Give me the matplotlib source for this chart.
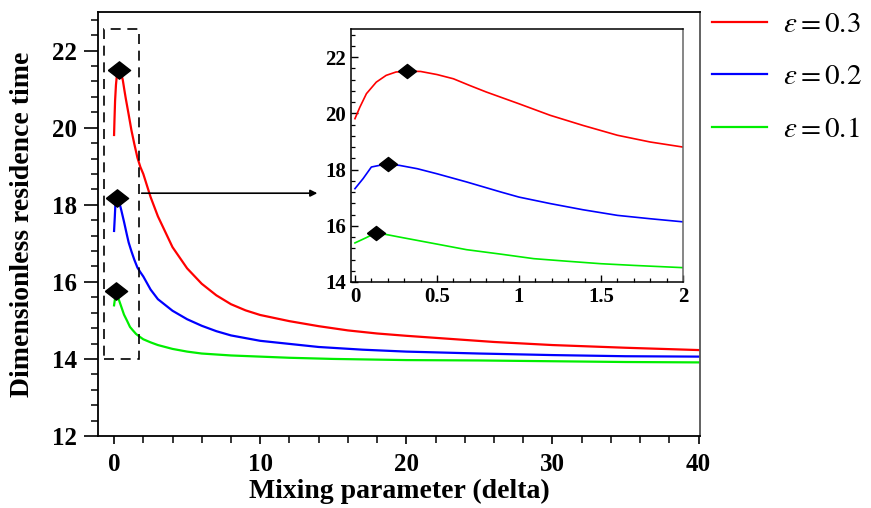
import numpy as np
import matplotlib
matplotlib.use('Agg')
import matplotlib.pyplot as plt
from matplotlib.patches import Rectangle
from matplotlib.ticker import MultipleLocator

plt.rcParams['font.family'] = 'Liberation Serif'
plt.rcParams['mathtext.fontset'] = 'stix'

# residence time vs mixing parameter
delta_03 = [0, 0.03, 0.07, 0.13, 0.19, 0.25, 0.32, 0.40, 0.50, 0.60, 0.70, 0.80, 1.0, 1.19, 1.39,
            1.60, 1.80, 2.0, 2.5, 3, 4, 5, 6, 7, 8, 9, 10, 12, 14, 16, 18, 20, 23, 26, 30, 35, 40]
tau_03 = [19.81, 20.22, 20.70, 21.11, 21.35, 21.47, 21.50, 21.49, 21.38, 21.23, 20.99, 20.76, 20.34,
          19.93, 19.57, 19.22, 18.98, 18.80, 18.20, 17.70, 16.90, 16.35, 15.95, 15.65, 15.42, 15.26,
          15.14, 14.98, 14.85, 14.74, 14.66, 14.60, 14.52, 14.44, 14.36, 14.29, 14.23]

delta_02 = [0, 0.05, 0.10, 0.15, 0.20, 0.27, 0.38, 0.50, 0.68, 0.89, 1.0, 1.19, 1.39, 1.60, 1.80, 2.0,
            2.5, 3, 4, 5, 6, 7, 8, 10, 12, 14, 17, 20, 25, 30, 35, 40]
tau_02 = [17.32, 17.68, 18.09, 18.15, 18.18, 18.15, 18.03, 17.85, 17.56, 17.20, 17.02, 16.79, 16.57,
          16.37, 16.25, 16.14, 15.80, 15.55, 15.25, 15.03, 14.86, 14.72, 14.61, 14.47, 14.39, 14.31,
          14.24, 14.19, 14.14, 14.10, 14.07, 14.06]

delta_01 = [0, 0.07, 0.13, 0.19, 0.27, 0.48, 0.68, 0.89, 1.09, 1.29, 1.50, 1.70, 2.0,
            2.5, 3, 4, 5, 6, 8, 10, 12, 15, 20, 25, 30, 35, 40]
tau_01 = [15.39, 15.58, 15.76, 15.69, 15.60, 15.37, 15.15, 14.99, 14.83, 14.74, 14.65, 14.59, 14.51,
          14.43, 14.36, 14.26, 14.19, 14.14, 14.09, 14.06, 14.03, 14.00, 13.97, 13.96, 13.94, 13.92, 13.91]

# maxima
peak_delta = [0.32, 0.20, 0.13]
peak_tau = [21.50, 18.18, 15.76]

series = [(delta_03, tau_03, 'red', r'$\varepsilon = 0.3$'),
          (delta_02, tau_02, 'blue', r'$\varepsilon = 0.2$'),
          (delta_01, tau_01, '#00ee00', r'$\varepsilon = 0.1$')]

# diamond wider than tall
diamond = [(-1, 0), (0, 0.78), (1, 0), (0, -0.78), (-1, 0)]

fig = plt.figure(figsize=(8.71, 5.08), dpi=100)
ax = fig.add_axes([0.1125, 0.1417, 0.6912, 0.8346])

for d, t, c, lab in series:
    ax.plot(d, t, color=c, lw=1.6, label=lab)
ax.plot(peak_delta, peak_tau, ls='none', marker=diamond, ms=16, color='black', zorder=5)

ax.set_xlim(-1.1, 40.1)
ax.set_ylim(12, 23)
ax.xaxis.set_major_locator(MultipleLocator(10))
ax.xaxis.set_minor_locator(MultipleLocator(2))
ax.yaxis.set_major_locator(MultipleLocator(2))
ax.yaxis.set_minor_locator(MultipleLocator(0.4))
ax.tick_params(axis='both', which='major', direction='out', labelsize=18, width=1.2)
ax.tick_params(axis='y', which='major', length=10, pad=5)
ax.tick_params(axis='x', which='major', length=6, pad=6)
ax.tick_params(axis='both', which='minor', direction='out', length=5, width=1.1)
for s in ax.spines.values():
    s.set_linewidth(1.3)
ax.spines['right'].set_color('#555555')

ax.set_xlabel('Mixing parameter (delta)', fontsize=20, fontweight='bold', labelpad=2)
ax.set_ylabel('Dimensionless residence time', fontsize=20, fontweight='bold', labelpad=12)

# zoom box and arrow
ax.add_patch(Rectangle((-0.7, 14), 2.4, 8.57, fill=False, ls=(0, (6, 4)), lw=1.2, ec='black', zorder=4))
ax.annotate('', xy=(14.1, 18.3), xytext=(1.7, 18.3),
            arrowprops=dict(arrowstyle='-|>', color='black', lw=1.2, mutation_scale=10))

# inset
axi = fig.add_axes([0.403, 0.4449, 0.3812, 0.498])
for d, t, c, lab in series:
    axi.plot(d, t, color=c, lw=1.2)
axi.plot(peak_delta, peak_tau, ls='none', marker=diamond, ms=13, color='black', zorder=5)
axi.set_xlim(-0.024, 2.0)
axi.set_ylim(14, 23)
axi.xaxis.set_major_locator(MultipleLocator(0.5))
axi.xaxis.set_minor_locator(MultipleLocator(0.1))
axi.yaxis.set_major_locator(MultipleLocator(2))
axi.yaxis.set_minor_locator(MultipleLocator(0.4))
axi.set_xticks([0, 0.5, 1, 1.5, 2])
axi.set_xticklabels(['0', '0.5', '1', '1.5', '2'])
axi.tick_params(axis='both', which='major', direction='in', length=5, width=1.0, labelsize=15)
axi.tick_params(axis='both', which='minor', direction='in', length=3, width=0.9)
for s in axi.spines.values():
    s.set_linewidth(1.1)
axi.spines['right'].set_color('#666666')

for a in (ax, axi):
    for lbl in a.get_xticklabels() + a.get_yticklabels():
        lbl.set_fontweight('bold')

fig.legend(loc='upper left', bbox_to_anchor=(0.797, 1.012), frameon=False,
           prop={'size': 21},
           handlelength=1.9, handletextpad=0.55, labelspacing=0.9, borderaxespad=0.2)

fig.savefig('out.png', dpi=100)
